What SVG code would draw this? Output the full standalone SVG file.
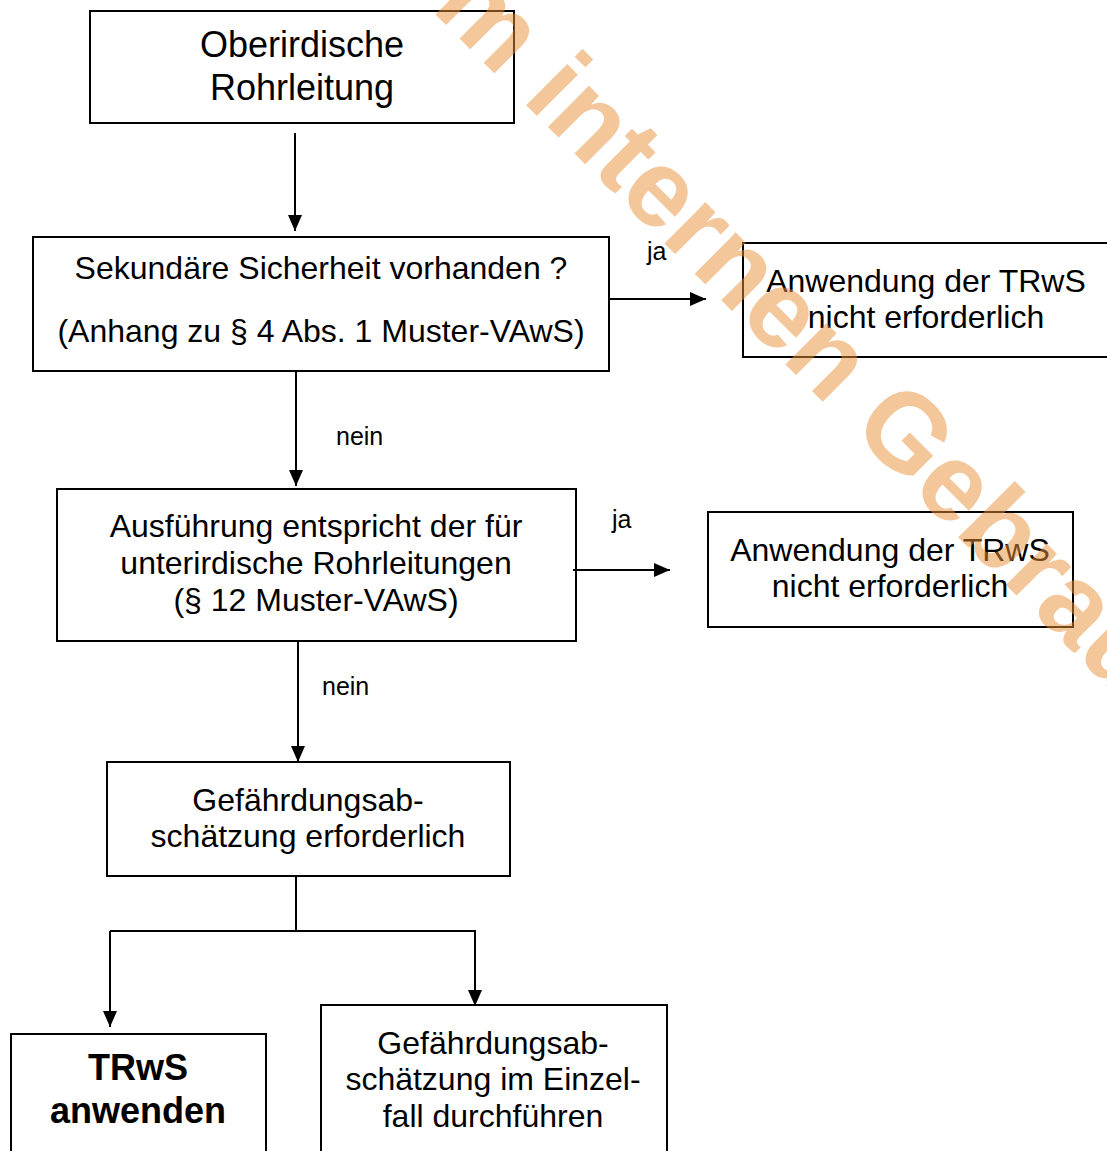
<svg xmlns="http://www.w3.org/2000/svg" width="1107" height="1151" viewBox="0 0 1107 1151">
<style>
  .box { fill: none; stroke: #000; stroke-width: 2; }
  .t { font-family: "Liberation Sans", Arial, sans-serif; font-size: 32px; fill: #000; text-anchor: middle; }
  .big { font-size: 36px; }
  .bold { font-weight: bold; }
  .lbl { font-family: "Liberation Sans", Arial, sans-serif; font-size: 25px; fill: #000; }
  .con { fill: none; stroke: #000; stroke-width: 2; }
  .wm { font-family: "Liberation Sans", Arial, sans-serif; font-weight: bold; font-size: 110px; fill: #EB9139; opacity: 0.5; }
</style>
<defs>
  <marker id="ah" markerUnits="userSpaceOnUse" markerWidth="16" markerHeight="14" refX="16" refY="7" orient="auto">
    <path d="M0,0 L16,7 L0,14 Z" fill="#000"/>
  </marker>
</defs>
<rect width="1107" height="1151" fill="#fff"/>

<g id="connectors">
  <line class="con" x1="295" y1="133" x2="295" y2="231" marker-end="url(#ah)"/>
  <line class="con" x1="609" y1="299" x2="706" y2="299" marker-end="url(#ah)"/>
  <text class="lbl" x="647" y="260">ja</text>
  <line class="con" x1="296" y1="371" x2="296" y2="486" marker-end="url(#ah)"/>
  <text class="lbl" x="336" y="445">nein</text>
  <line class="con" x1="573" y1="570" x2="670" y2="570" marker-end="url(#ah)"/>
  <text class="lbl" x="612" y="528">ja</text>
  <line class="con" x1="298" y1="641" x2="298" y2="762" marker-end="url(#ah)"/>
  <text class="lbl" x="322" y="695">nein</text>
  <line class="con" x1="296" y1="876" x2="296" y2="932"/>
  <polyline class="con" points="110,931 475,931 475,1006" marker-end="url(#ah)"/>
  <line class="con" x1="110" y1="931" x2="110" y2="1027" marker-end="url(#ah)"/>
</g>

<g id="n1">
  <rect class="box" x="90" y="11" width="424" height="112"/>
  <text class="t big" x="302" y="57">Oberirdische</text>
  <text class="t big" x="302" y="100">Rohrleitung</text>
</g>
<g id="n2">
  <rect class="box" x="33" y="237" width="576" height="134"/>
  <text class="t" x="321" y="279">Sekundäre Sicherheit vorhanden ?</text>
  <text class="t" x="321" y="342">(Anhang zu § 4 Abs. 1 Muster-VAwS)</text>
</g>
<g id="n3">
  <rect class="box" x="743" y="243" width="380" height="114"/>
  <text class="t" x="926" y="292">Anwendung der TRwS</text>
  <text class="t" x="926" y="328">nicht erforderlich</text>
</g>
<g id="n4">
  <rect class="box" x="57" y="489" width="519" height="152"/>
  <text class="t" x="316" y="537">Ausführung entspricht der für</text>
  <text class="t" x="316" y="574">unterirdische Rohrleitungen</text>
  <text class="t" x="316" y="611">(§ 12 Muster-VAwS)</text>
</g>
<g id="n5">
  <rect class="box" x="708" y="512" width="365" height="115"/>
  <text class="t" x="890" y="561">Anwendung der TRwS</text>
  <text class="t" x="890" y="597">nicht erforderlich</text>
</g>
<g id="n6">
  <rect class="box" x="107" y="762" width="403" height="114"/>
  <text class="t" x="308" y="811">Gefährdungsab-</text>
  <text class="t" x="308" y="847">schätzung erforderlich</text>
</g>
<g id="n7">
  <rect class="box" x="11" y="1034" width="255" height="130"/>
  <text class="t big bold" x="138" y="1080">TRwS</text>
  <text class="t big bold" x="138" y="1123">anwenden</text>
</g>
<g id="n8">
  <rect class="box" x="321" y="1005" width="346" height="160"/>
  <text class="t" x="493" y="1054">Gefährdungsab-</text>
  <text class="t" x="493" y="1090">schätzung im Einzel-</text>
  <text class="t" x="493" y="1127">fall durchführen</text>
</g>

<text class="wm" transform="translate(430,9) rotate(45)">m internen Gebrau</text>
</svg>
